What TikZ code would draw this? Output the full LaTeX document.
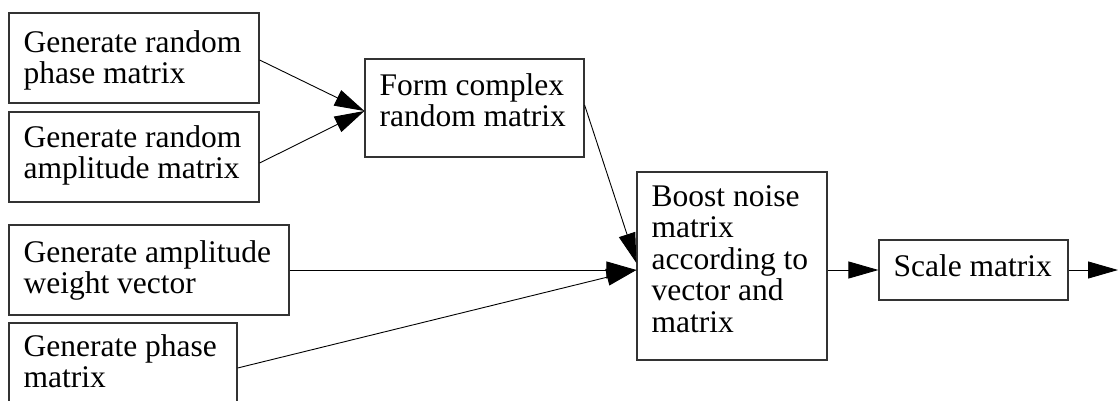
\documentclass[tikz,border=0pt]{standalone}
\usepackage{fontspec}
\setmainfont{Liberation Serif}
\usetikzlibrary{arrows.meta}

\tikzset{
  stage/.style={draw=black!80, line width=1.2pt, rectangle, inner sep=0pt, fill=white},
  words/.style={inner sep=0pt, anchor=north west, align=left,
    font=\fontsize{31.5}{31.5}\selectfont},
  flow/.style={line width=0.9pt, -{Triangle[length=30pt,width=17pt]}}
}

\begin{document}
\begin{tikzpicture}[x=1pt,y=-1pt]
  \clip (0,0) rectangle (1118,401);
  \fill[white] (0,0) rectangle (1118,401);

  % source stages on the left
  \node[stage, minimum width=250pt, minimum height=90pt]  (phase)  at (134,58)  {};
  \node[stage, minimum width=250pt, minimum height=90pt]  (ampl)   at (134,157) {};
  \node[stage, minimum width=280pt, minimum height=90pt]  (weight) at (149,270) {};
  \node[stage, minimum width=228pt, minimum height=100pt] (pmat)   at (123,373) {};

  % combining stages
  \node[stage, minimum width=219pt, minimum height=98pt]  (complex) at (474.5,108) {};
  \node[stage, minimum width=190pt, minimum height=188pt] (boost)   at (732,266)   {};
  \node[stage, minimum width=189pt, minimum height=60pt]  (scale)   at (973.5,270) {};

  % stage texts
  \node[words] (phaseT)   at ([xshift=15pt,yshift=-18pt]phase.north west)   {Generate random\\phase matrix};
  \node[words] (amplT)    at ([xshift=15pt,yshift=-14pt]ampl.north west)    {Generate random\\amplitude matrix};
  \node[words] (weightT)  at ([xshift=15pt,yshift=-16pt]weight.north west)  {Generate amplitude\\weight vector};
  \node[words] (pmatT)    at ([xshift=15pt,yshift=-12pt]pmat.north west)    {Generate phase\\matrix};
  \node[words] (complexT) at ([xshift=15pt,yshift=-15pt]complex.north west) {Form complex\\random matrix};
  \node[words] (boostT)   at ([xshift=15pt,yshift=-14pt]boost.north west)   {Boost noise\\matrix\\according to\\vector and\\matrix};
  \node[words] (scaleT)   at ([xshift=15pt,yshift=-15pt]scale.north west)   {Scale matrix};

  \coordinate (out) at (1118,270);

  % connectors
  \draw[flow] ([yshift=-2pt]phase.east) -- ([yshift=-3pt]complex.west);
  \draw[flow] ([yshift=-6pt]ampl.east) -- ([yshift=-3pt]complex.west);
  \draw[flow] ([yshift=3pt]complex.east) -- ([yshift=3pt]boost.west);
  \draw[flow] (weight.east) -- ([yshift=-4pt]boost.west);
  \draw[flow] ([yshift=5pt]pmat.east) -- ([yshift=-4pt]boost.west);
  \draw[flow] ([yshift=-4pt]boost.east) -- (scale.west);
  \draw[flow] (scale.east) -- (out);
\end{tikzpicture}
\end{document}
